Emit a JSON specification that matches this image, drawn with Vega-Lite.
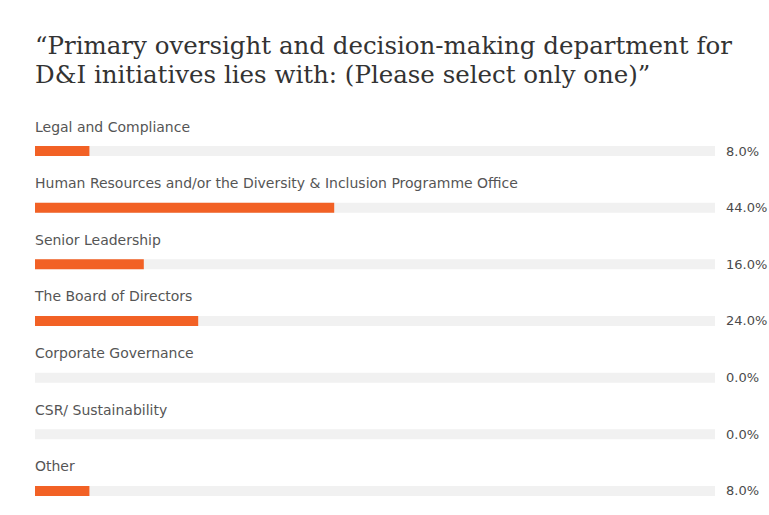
{
  "$schema": "https://vega.github.io/schema/vega-lite/v6.json",
  "autosize": "none",
  "width": 680,
  "height": 396.67,
  "padding": {"left": 35, "top": 122.67, "right": 54, "bottom": 0},
  "background": "white",
  "config": {"view": {"stroke": null}},
  "title": {
    "text": ["“Primary oversight and decision-making department for", "D&I initiatives lies with: (Please select only one)”"],
    "anchor": "start",
    "frame": "group",
    "font": "DejaVu Serif",
    "fontSize": 24.5,
    "fontWeight": "normal",
    "color": "#333333",
    "lineHeight": 29,
    "offset": 32
  },
  "data": {
    "values": [
      {"category": "Legal and Compliance", "share": 0.08},
      {"category": "Human Resources and/or the Diversity & Inclusion Programme Office", "share": 0.44},
      {"category": "Senior Leadership", "share": 0.16},
      {"category": "The Board of Directors", "share": 0.24},
      {"category": "Corporate Governance", "share": 0.0},
      {"category": "CSR/ Sustainability", "share": 0.0},
      {"category": "Other", "share": 0.08}
    ]
  },
  "encoding": {
    "y": {"field": "category", "type": "nominal", "sort": null, "axis": null,
          "scale": {"paddingInner": 0, "paddingOuter": 0}}
  },
  "layer": [
    {
      "mark": {"type": "bar", "height": 10, "color": "#f1f1f1", "cornerRadius": 0},
      "encoding": {"x": {"datum": 1, "type": "quantitative", "scale": {"domain": [0, 1]}, "axis": null}}
    },
    {
      "mark": {"type": "bar", "height": 10, "color": "#f26125"},
      "encoding": {"x": {"field": "share", "type": "quantitative", "scale": {"domain": [0, 1]}, "axis": null}}
    },
    {
      "mark": {"type": "text", "align": "left", "baseline": "middle", "yOffset": -23.5, "font": "DejaVu Sans", "fontSize": 14, "color": "#555555"},
      "encoding": {"x": {"datum": 0, "type": "quantitative"}, "text": {"field": "category"}}
    },
    {
      "mark": {"type": "text", "align": "left", "baseline": "middle", "dx": 11, "yOffset": 0.5, "font": "DejaVu Sans", "fontSize": 13, "color": "#4a4a4a"},
      "encoding": {"x": {"datum": 1, "type": "quantitative"}, "text": {"field": "share", "format": ".1%"}}
    }
  ]
}
